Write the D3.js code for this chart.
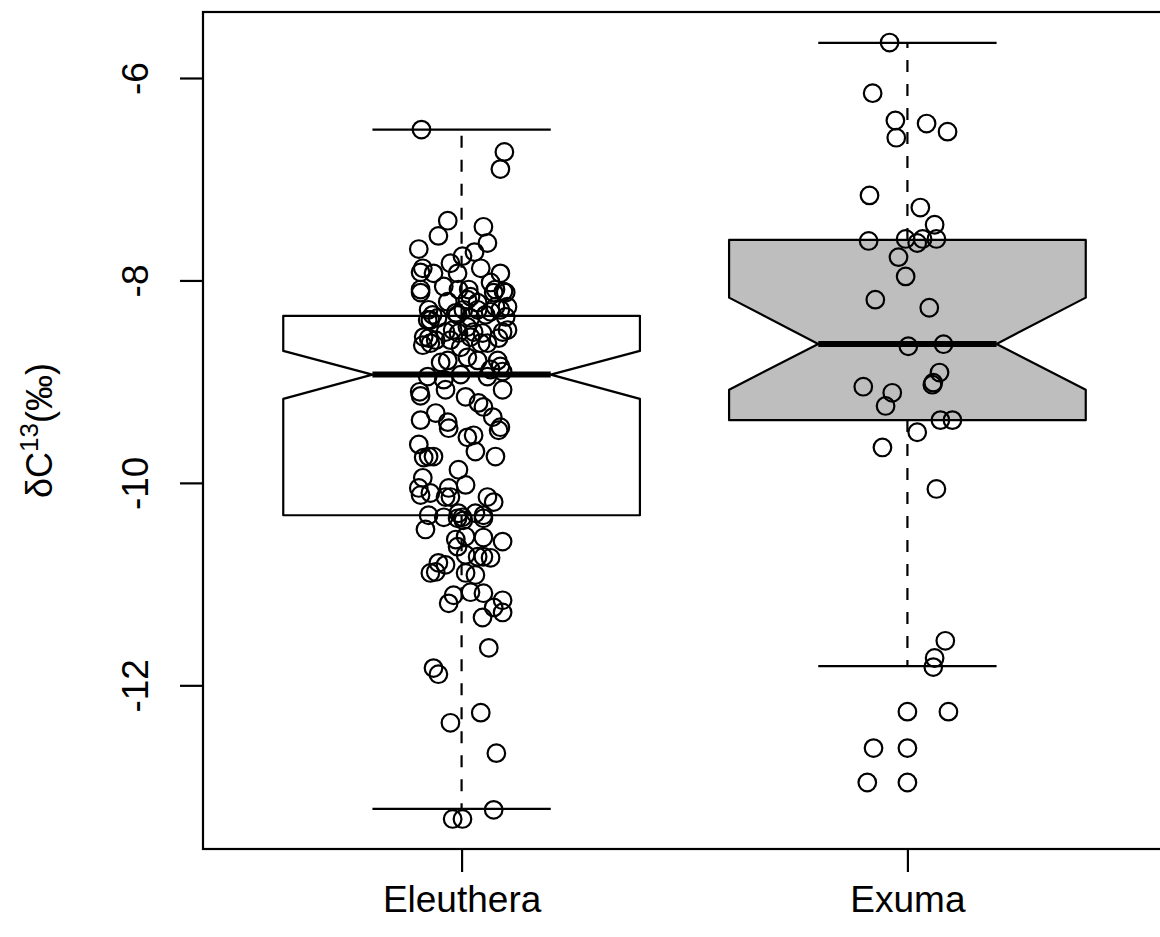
<!DOCTYPE html>
<html>
<head>
<meta charset="utf-8">
<script src="https://cdnjs.cloudflare.com/ajax/libs/d3/7.8.5/d3.min.js"></script>
<style>
  body { margin: 0; background: #fff; }
  svg { display: block; }
  text { font-family: "Liberation Sans", Arial, Helvetica, sans-serif; }
</style>
</head>
<body>
<script>
// categories and box statistics
const sites = ["Eleuthera", "Exuma"];
const boxFill = ["#ffffff", "#bebebe"];
const whiskerLow = [-13.22, -11.81];
const boxQ1 = [-10.32, -9.38];
const boxMedian = [-8.93, -8.627];
const boxQ3 = [-8.35, -7.60];
const whiskerHigh = [-6.51, -5.654];
const notchLow = [-9.17, -9.08];
const notchHigh = [-8.696, -8.17];

const yTicks = [-6, -8, -10, -12];

// jittered points: [x jitter, delta C13]
const eleutheraPoints = [
  [-0.090,-6.51],[0.096,-6.73],[0.087,-6.90],[-0.031,-7.41],[-0.052,-7.56],[0.049,-7.47],
  [0.058,-7.63],[-0.096,-7.69],[0.029,-7.72],[0.002,-7.76],[-0.025,-7.83],[0.043,-7.88],
  [-0.087,-7.88],[-0.092,-7.92],[-0.063,-7.93],[-0.009,-7.93],[0.087,-7.93],[0.065,-8.02],
  [-0.040,-8.06],[0.016,-8.09],[0.076,-8.09],[-0.092,-8.09],[-0.007,-8.09],[0.094,-8.11],
  [-0.092,-8.12],[0.072,-8.12],[0.099,-8.12],[0.020,-8.16],[-0.031,-8.21],[0.013,-8.19],
  [0.036,-8.22],[0.087,-8.29],[-0.070,-8.39],[-0.054,-8.37],[-0.009,-8.34],[0.020,-8.37],
  [0.065,-8.31],[-0.074,-8.29],[-0.065,-8.34],[-0.076,-8.39],[-0.013,-8.32],[0.004,-8.29],
  [0.036,-8.29],[0.054,-8.34],[0.076,-8.26],[0.103,-8.26],[0.099,-8.36],[-0.085,-8.56],
  [-0.074,-8.57],[-0.036,-8.51],[-0.020,-8.49],[-0.007,-8.52],[0.013,-8.46],[0.027,-8.51],
  [0.047,-8.52],[0.058,-8.62],[0.092,-8.51],[0.083,-8.57],[-0.087,-8.64],[-0.058,-8.59],
  [-0.070,-8.62],[-0.025,-8.59],[-0.002,-8.66],[0.020,-8.56],[0.043,-8.62],[0.103,-8.49],
  [-0.047,-8.81],[-0.031,-8.79],[0.013,-8.76],[0.036,-8.79],[0.081,-8.79],[0.087,-8.85],
  [0.065,-8.88],[-0.076,-8.95],[-0.040,-8.98],[-0.002,-8.93],[0.058,-8.95],[0.092,-8.90],
  [-0.094,-9.10],[-0.092,-9.14],[-0.036,-9.08],[0.009,-9.15],[0.038,-9.21],[0.049,-9.25],
  [0.092,-9.08],[-0.092,-9.38],[-0.058,-9.31],[-0.031,-9.40],[-0.029,-9.46],[0.070,-9.35],
  [0.087,-9.45],[0.013,-9.55],[0.027,-9.53],[0.083,-9.48],[-0.096,-9.62],[0.031,-9.69],
  [0.076,-9.74],[-0.085,-9.75],[-0.074,-9.74],[-0.063,-9.74],[-0.007,-9.87],[-0.087,-9.95],
  [-0.096,-10.05],[-0.092,-10.12],[-0.070,-10.10],[-0.029,-10.05],[-0.025,-10.14],[-0.036,-10.14],
  [0.009,-10.02],[0.058,-10.14],[0.072,-10.19],[-0.074,-10.32],[-0.040,-10.34],[-0.007,-10.30],
  [0.002,-10.34],[0.031,-10.30],[0.049,-10.32],[-0.081,-10.46],[-0.009,-10.35],[0.004,-10.37],
  [0.049,-10.35],[-0.013,-10.56],[0.009,-10.53],[0.049,-10.54],[0.092,-10.58],[-0.009,-10.63],
  [0.009,-10.71],[0.036,-10.73],[0.049,-10.73],[0.065,-10.74],[-0.052,-10.79],[-0.036,-10.81],
  [-0.070,-10.89],[-0.058,-10.88],[0.009,-10.89],[0.031,-10.91],[-0.018,-11.11],[0.020,-11.08],
  [0.049,-11.09],[0.092,-11.16],[-0.029,-11.19],[0.072,-11.23],[0.092,-11.28],[0.047,-11.33],
  [0.061,-11.63],[-0.063,-11.83],[-0.052,-11.89],[0.043,-12.27],[-0.025,-12.37],[0.078,-12.67],
  [0.072,-13.23],[-0.020,-13.32],[0.002,-13.32]
];

const exumaPoints = [
  [-0.040,-5.65],[-0.078,-6.15],[-0.027,-6.42],[0.043,-6.45],[-0.025,-6.59],[0.090,-6.53],
  [-0.085,-7.16],[0.029,-7.28],[0.061,-7.45],[-0.087,-7.61],[-0.004,-7.59],[0.034,-7.59],
  [0.022,-7.63],[0.065,-7.59],[-0.020,-7.77],[-0.004,-7.96],[-0.072,-8.19],[0.049,-8.27],
  [0.002,-8.65],[0.081,-8.63],[0.072,-8.91],[0.058,-9.01],[0.056,-9.03],[-0.099,-9.05],
  [-0.034,-9.11],[-0.049,-9.24],[0.074,-9.38],[0.101,-9.38],[0.022,-9.50],[-0.056,-9.65],
  [0.065,-10.06],[0.085,-11.56],[0.061,-11.73],[0.058,-11.82],[0,-12.26],[0.092,-12.26],
  [-0.076,-12.62],[0,-12.62],[-0.090,-12.96],[0,-12.96]
];

const W = 1160, H = 937;
const plot = {left: 203, right: 1166, top: 12, bottom: 849};

const svg = d3.select("body").append("svg")
    .attr("width", W)
    .attr("height", H);

const x = d3.scaleLinear().domain([0.42, 2.58]).range([plot.left, plot.right]);
const y = d3.scaleLinear().domain([-13.617, -5.348]).range([plot.bottom, plot.top]);

const halfW = 0.4;
const lw = 2.2;

// boxes
sites.forEach(function(s, i) {
    const c = i + 1;
    const g = svg.append("g");

    // whiskers (dashed)
    g.append("line")
        .attr("x1", x(c)).attr("x2", x(c))
        .attr("y1", y(boxQ3[i])).attr("y2", y(whiskerHigh[i]))
        .attr("stroke", "#000").attr("stroke-width", lw)
        .attr("stroke-dasharray", "12,12");
    g.append("line")
        .attr("x1", x(c)).attr("x2", x(c))
        .attr("y1", y(boxQ1[i])).attr("y2", y(whiskerLow[i]))
        .attr("stroke", "#000").attr("stroke-width", lw)
        .attr("stroke-dasharray", "12,12");

    // staples
    [whiskerLow[i], whiskerHigh[i]].forEach(function(v) {
        g.append("line")
            .attr("x1", x(c - halfW / 2)).attr("x2", x(c + halfW / 2))
            .attr("y1", y(v)).attr("y2", y(v))
            .attr("stroke", "#000").attr("stroke-width", lw);
    });

    // notched box
    const pts = [
        [c - halfW, boxQ3[i]], [c + halfW, boxQ3[i]], [c + halfW, notchHigh[i]],
        [c + halfW / 2, boxMedian[i]], [c + halfW, notchLow[i]], [c + halfW, boxQ1[i]],
        [c - halfW, boxQ1[i]], [c - halfW, notchLow[i]], [c - halfW / 2, boxMedian[i]],
        [c - halfW, notchHigh[i]]
    ];
    g.append("path")
        .attr("d", d3.line().x(d => x(d[0])).y(d => y(d[1]))(pts) + "Z")
        .attr("fill", boxFill[i])
        .attr("stroke", "#000")
        .attr("stroke-width", lw)
        .attr("stroke-linejoin", "round");

    // median
    g.append("line")
        .attr("x1", x(c - halfW / 2)).attr("x2", x(c + halfW / 2))
        .attr("y1", y(boxMedian[i])).attr("y2", y(boxMedian[i]))
        .attr("stroke", "#000").attr("stroke-width", 6);
});

// points
[eleutheraPoints, exumaPoints].forEach(function(arr, i) {
    svg.append("g").selectAll("circle")
        .data(arr)
        .enter()
        .append("circle")
        .attr("cx", d => x(i + 1 + d[0]))
        .attr("cy", d => y(d[1]))
        .attr("r", 8.8)
        .attr("fill", "none")
        .attr("stroke", "#000")
        .attr("stroke-width", 2.2);
});

// frame
svg.append("rect")
    .attr("x", plot.left).attr("y", plot.top)
    .attr("width", plot.right - plot.left).attr("height", plot.bottom - plot.top)
    .attr("fill", "none").attr("stroke", "#000").attr("stroke-width", lw);

// y axis
const yAxis = svg.append("g")
    .attr("transform", "translate(" + plot.left + ",0)")
    .call(d3.axisLeft(y).tickValues(yTicks).tickSize(23).tickFormat(d3.format("d")));
yAxis.select(".domain").remove();
yAxis.selectAll(".tick line").attr("stroke-width", lw);
yAxis.selectAll(".tick text")
    .attr("transform", "rotate(-90)")
    .attr("x", 0).attr("y", -55).attr("dy", null)
    .attr("text-anchor", "middle")
    .style("font-size", "37px")
    .style("font-family", "'Liberation Sans', Arial, sans-serif")
    .attr("fill", "#000")
    .text(d => d < 0 ? "-" + Math.abs(d) : d);

// x axis
const xAxis = svg.append("g")
    .attr("transform", "translate(0," + plot.bottom + ")")
    .call(d3.axisBottom(x).tickValues([1, 2]).tickSize(23).tickFormat((d, i) => sites[i]));
xAxis.select(".domain").remove();
xAxis.selectAll(".tick line").attr("stroke-width", lw);
xAxis.selectAll(".tick text")
    .attr("y", 63).attr("dy", null)
    .style("font-size", "37px")
    .style("font-family", "'Liberation Sans', Arial, sans-serif")
    .attr("fill", "#000");

// y axis title
const title = svg.append("text")
    .attr("transform", "translate(52," + ((plot.top + plot.bottom) / 2) + ") rotate(-90)")
    .attr("text-anchor", "middle")
    .style("font-size", "36px");
title.append("tspan").text("\u03B4C");
title.append("tspan").attr("dy", -14).style("font-size", "26px").text("13");
title.append("tspan").attr("dy", 14).text("(\u2030)");
</script>
</body>
</html>
